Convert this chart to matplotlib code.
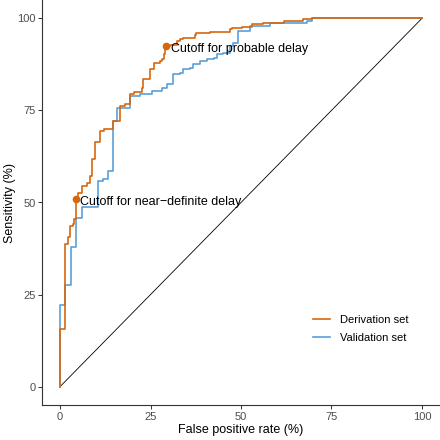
from __future__ import annotations

import matplotlib

matplotlib.use("Agg")
import matplotlib.pyplot as plt


# ROC curve points (false positive rate %, sensitivity %), step vertices
DERIV_FPR = [0, 0, 1.4, 2.1, 2.7, 3.6, 3.9, 4.3, 5.0, 6.0, 7.4, 8.3, 8.8, 9.7,
             11.1, 12.2, 14.7, 16.5, 18.0, 19.4, 20.3, 22.6, 22.8, 24.9, 26.0,
             27.6, 28.2, 28.6, 29.1, 29.4, 30.4, 32.3, 33.2, 34.1, 37.3, 37.7,
             41.5, 47.0, 47.4, 50.2, 53.0, 56.2, 61.8, 67.2, 69.6, 100]
DERIV_SENS = [0, 15.7, 38.8, 40.6, 43.7, 44.2, 45.5, 51.0, 52.7, 54.5, 55.4,
              57.3, 61.8, 66.3, 69.5, 69.9, 72.2, 76.2, 76.7, 79.4, 79.9, 81.2,
              83.5, 86.2, 88.0, 88.4, 88.9, 90.2, 91.6, 92.5, 92.9, 93.8, 94.3,
              94.7, 95.4, 96.1, 96.4, 97.0, 97.4, 97.6, 98.4, 98.8, 99.3, 99.9,
              100, 100]

VALID_FPR = [0, 0, 1.4, 2.9, 4.4, 6.0, 10.5, 11.9, 13.3, 14.7, 15.8, 19.4,
             22.1, 25.3, 28.2, 29.5, 31.3, 33.2, 34.1, 35.9, 36.8, 38.7, 40.6,
             42.4, 43.3, 45.1, 47.0, 47.9, 49.2, 52.5, 58.0, 68.2, 69.6, 100]
VALID_SENS = [0, 22.2, 27.6, 38.0, 45.7, 48.7, 55.9, 56.4, 58.6, 72.2, 75.8,
              78.8, 79.4, 80.3, 81.2, 82.1, 84.8, 85.3, 86.2, 86.6, 87.5, 88.4,
              88.9, 89.3, 90.2, 90.7, 92.5, 93.4, 96.6, 97.9, 98.8, 99.2, 100,
              100]

CUTOFF_LABELS = ["Cutoff for probable delay", "Cutoff for near\u2212definite delay"]
CUTOFF_FPR = [29.4, 4.3]
CUTOFF_SENS = [92.5, 51.0]

TICKS = [0, 25, 50, 75, 100]

ORANGE = "#D5670F"
BLUE = "#5A9FDA"


def main() -> None:
    plt.rcParams["font.family"] = ["Liberation Sans", "DejaVu Sans"]

    fig = plt.figure(figsize=(4.4, 4.4), dpi=100)
    ax = fig.add_axes([42 / 440, 35 / 440, 398 / 440, 405 / 440])

    ax.plot([0, 100], [0, 100], color="black", linewidth=0.6, zorder=1)
    ax.step(VALID_FPR, VALID_SENS, where="post", color=BLUE, linewidth=1.2,
            label="Validation set", zorder=2)
    ax.step(DERIV_FPR, DERIV_SENS, where="post", color=ORANGE, linewidth=1.2,
            label="Derivation set", zorder=3)

    ax.plot(CUTOFF_FPR, CUTOFF_SENS, "o", color=ORANGE, markersize=4.5, zorder=4)
    for label, x, y in zip(CUTOFF_LABELS, CUTOFF_FPR, CUTOFF_SENS):
        ax.annotate(label, (x, y), xytext=(3, -2.5), textcoords="offset points",
                    ha="left", va="center", fontsize=9, color="black", zorder=5)

    ax.set_xlim(-5, 105)
    ax.set_ylim(-5, 105)
    ax.set_xticks(TICKS)
    ax.set_yticks(TICKS)
    ax.set_xlabel("False positive rate (%)", fontsize=9, labelpad=2)
    ax.set_ylabel("Sensitivity (%)", fontsize=9)
    ax.yaxis.set_label_coords(-0.066, 0.5)

    for side in ("top", "right"):
        ax.spines[side].set_visible(False)
    for side in ("left", "bottom"):
        ax.spines[side].set_color("#333333")
        ax.spines[side].set_linewidth(0.8)
    ax.tick_params(length=3.2, width=0.7, color="#333333", labelsize=8,
                   labelcolor="#4D4D4D", pad=1.5)

    handles, labels = ax.get_legend_handles_labels()
    ax.legend(handles[::-1], labels[::-1], loc="center left",
              bbox_to_anchor=((313 - 42) / 398, (405 - 329) / 405),
              frameon=False, fontsize=8, handlelength=1.55, handletextpad=0.9,
              labelspacing=0.75, borderpad=0, borderaxespad=0)

    fig.savefig("out.png", dpi=100)
    plt.close(fig)


if __name__ == "__main__":
    main()
